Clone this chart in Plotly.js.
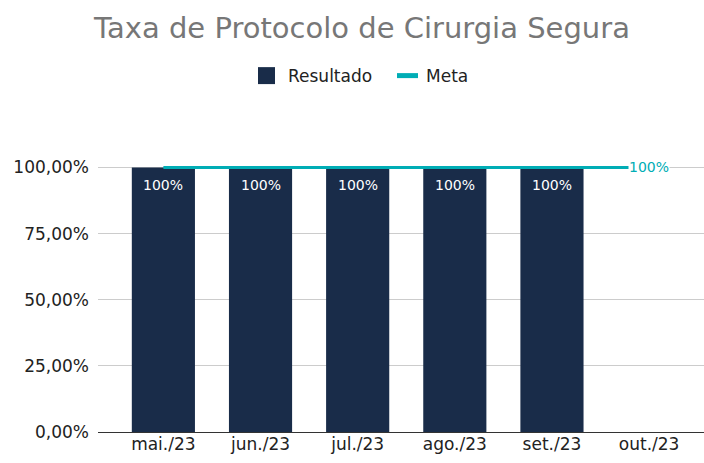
<!DOCTYPE html>
<html><head><meta charset="utf-8">
<script src="https://cdn.plot.ly/plotly-3.0.1.min.js"></script>
<style>html,body{margin:0;padding:0;background:#fff}</style>
</head><body>
<div id="chart" style="width:704px;height:463px"></div>
<script>
const categories = ["mai./23","jun./23","jul./23","ago./23","set./23","out./23"];
const resultado = [100,100,100,100,100,null];
const resultadoLabels = ["100%","100%","100%","100%","100%",""];
const meta = [100,100,100,100,100,100];
const metaLabel = "100%";
const yTicks = [0,25,50,75,100];
const yTickLabels = ["0,00%","25,00%","50,00%","75,00%","100,00%"];
const seriesNames = ["Resultado","Meta"];

const FONT = "DejaVu Sans, Verdana, sans-serif";
const BAR_COLOR = "#192c49";
const META_COLOR = "#00adb5";
const idx = categories.map((_, i) => i);

// plot-area geometry helpers (pixel -> paper)
const ML = 98, MR = 0, MT = 140.5, MB = 31, W = 704, H = 463;
const plotW = W - ML - MR, plotH = H - MT - MB;
const px = x => (x - ML) / plotW;
const py = y => (H - MB - y) / plotH;

const traces = [
  {type:"bar", name:seriesNames[0], x: idx, y: resultado, width: 0.65,
   marker:{color:BAR_COLOR}, hoverinfo:"none", showlegend:false},
  {type:"scatter", mode:"lines", name:seriesNames[1], x: idx, y: meta,
   line:{color:META_COLOR, width:3}, hoverinfo:"none", showlegend:false}
];

const annotations = [];
resultado.forEach((v, i) => {
  if (v !== null && resultadoLabels[i]) {
    annotations.push({x: idx[i], y: v, xref:"x", yref:"y", text: resultadoLabels[i], showarrow:false,
      xanchor:"center", yanchor:"middle", yshift:-18, font:{size:14, color:"#ffffff", family:FONT}});
  }
});
annotations.push({x: idx[idx.length-1], y: meta[meta.length-1], xref:"x", yref:"y", text: metaLabel,
  showarrow:false, xanchor:"center", yanchor:"middle", bgcolor:"#ffffff", borderpad:0,
  font:{size:14, color:META_COLOR, family:FONT}});
// legend texts
annotations.push({x:px(286), y:py(75), xref:"paper", yref:"paper", text:seriesNames[0], showarrow:false,
  xanchor:"left", yanchor:"middle", font:{size:17, color:"#222222", family:FONT}});
annotations.push({x:px(424), y:py(75), xref:"paper", yref:"paper", text:seriesNames[1], showarrow:false,
  xanchor:"left", yanchor:"middle", font:{size:17, color:"#222222", family:FONT}});

const layout = {
  width:W, height:H,
  margin:{l:ML, r:MR, t:MT, b:MB},
  paper_bgcolor:"#ffffff", plot_bgcolor:"#ffffff",
  font:{family:FONT, size:17, color:"#222222"},
  title:{text:"Taxa de Protocolo de Cirurgia Segura", font:{size:29, color:"#777777", family:FONT},
         x:362/W, xref:"container", xanchor:"center", y:1-28/H, yref:"container", yanchor:"middle"},
  showlegend:false,
  bargap:0.35,
  xaxis:{range:[-0.673, 5.565], tickmode:"array", tickvals: idx, ticktext: categories,
         showgrid:false, zeroline:false, showline:false, ticks:"", tickfont:{size:17, color:"#222222"}, fixedrange:true},
  yaxis:{range:[0,110], tickmode:"array", tickvals:yTicks, ticktext:yTickLabels,
         showgrid:true, gridcolor:"#cccccc", gridwidth:1, zeroline:true, zerolinecolor:"#333333", zerolinewidth:1,
         showline:false, ticks:"", ticklabelstandoff:8, tickfont:{size:17, color:"#222222"}, fixedrange:true},
  annotations: annotations,
  shapes:[
    {type:"rect", xref:"paper", yref:"paper", x0:px(258), x1:px(275), y0:py(83.5), y1:py(66.5),
     fillcolor:BAR_COLOR, line:{width:0}},
    {type:"line", xref:"paper", yref:"paper", x0:px(397), x1:px(418), y0:py(75), y1:py(75),
     line:{color:META_COLOR, width:5}}
  ]
};

Plotly.newPlot("chart", traces, layout, {displayModeBar:false, staticPlot:true});
</script>
</body></html>
